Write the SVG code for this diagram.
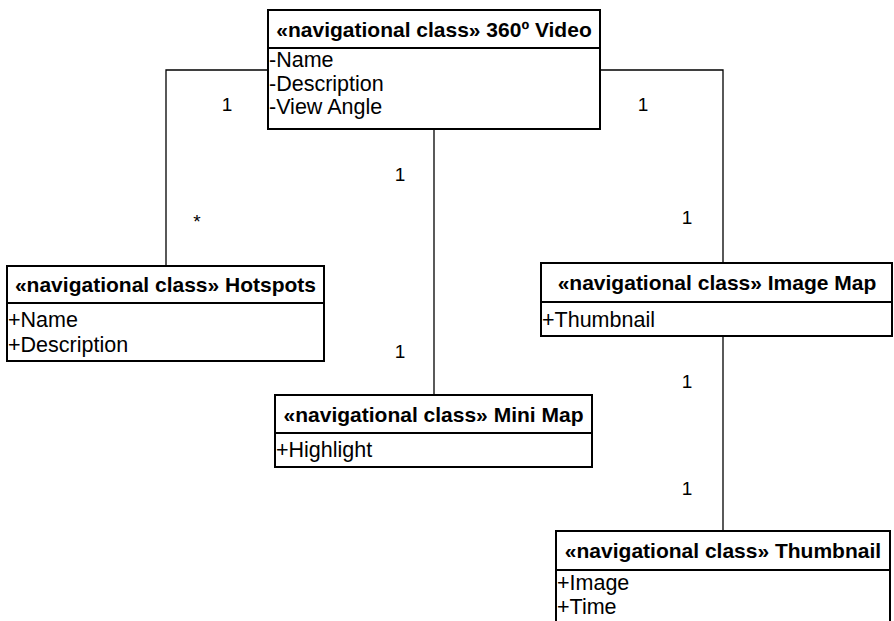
<svg xmlns="http://www.w3.org/2000/svg" width="894" height="621" viewBox="0 0 894 621">
<style>
.box{fill:#fff;stroke:#000;stroke-width:2}
.div{stroke:#000;stroke-width:2}
.con{fill:none;stroke:#000;stroke-width:1.3}
.title{font-family:"Liberation Sans",Arial,sans-serif;font-weight:bold;font-size:21px;text-anchor:middle;fill:#000}
.attr{font-family:"Liberation Sans",Arial,sans-serif;font-size:21.5px;fill:#000}
.mul{font-family:"Liberation Sans",Arial,sans-serif;font-size:19px;fill:#000;text-anchor:middle}
</style>
<rect width="894" height="621" fill="#fff"/>
<g id="connectors">
<polyline class="con" points="268,70 166,70 166,266"/>
<polyline class="con" points="600,70 723,70 723,263"/>
<line class="con" x1="434" y1="129" x2="434" y2="395"/>
<line class="con" x1="723" y1="336" x2="723" y2="531"/>
<text class="mul" x="227" y="111">1</text>
<text class="mul" x="197" y="228">*</text>
<text class="mul" x="400" y="181">1</text>
<text class="mul" x="400" y="358">1</text>
<text class="mul" x="643" y="111">1</text>
<text class="mul" x="687" y="224">1</text>
<text class="mul" x="687" y="388">1</text>
<text class="mul" x="687" y="495">1</text>
</g>
<g id="video">
<rect class="box" x="268" y="10" width="332" height="119"/>
<line class="div" x1="268" y1="48" x2="600" y2="48"/>
<text class="title" x="434" y="37">«navigational class» 360º Video</text>
<text class="attr" x="269" y="67">-Name</text>
<text class="attr" x="269" y="91">-Description</text>
<text class="attr" x="269" y="114">-View Angle</text>
</g>
<g id="hotspots">
<rect class="box" x="7" y="266" width="317" height="95"/>
<line class="div" x1="7" y1="303" x2="324" y2="303"/>
<text class="title" x="165.5" y="292">«navigational class» Hotspots</text>
<text class="attr" x="8" y="327">+Name</text>
<text class="attr" x="8" y="352">+Description</text>
</g>
<g id="minimap">
<rect class="box" x="275" y="395" width="317" height="72"/>
<line class="div" x1="275" y1="433" x2="592" y2="433"/>
<text class="title" x="433.5" y="422">«navigational class» Mini Map</text>
<text class="attr" x="276" y="457">+Highlight</text>
</g>
<g id="imagemap">
<rect class="box" x="541" y="263" width="351" height="73"/>
<line class="div" x1="541" y1="302" x2="892" y2="302"/>
<text class="title" x="717" y="290">«navigational class» Image Map</text>
<text class="attr" x="542" y="327">+Thumbnail</text>
</g>
<g id="thumbnail">
<rect class="box" x="556" y="531" width="334" height="100"/>
<line class="div" x1="556" y1="570" x2="890" y2="570"/>
<text class="title" x="723" y="558">«navigational class» Thumbnail</text>
<text class="attr" x="557" y="590">+Image</text>
<text class="attr" x="557" y="614">+Time</text>
</g>
</svg>
